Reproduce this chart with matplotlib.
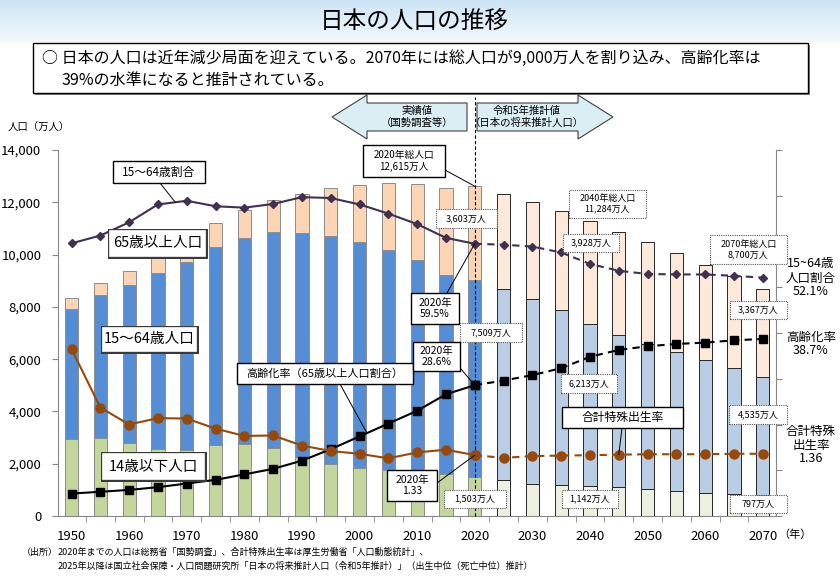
import matplotlib
matplotlib.use('Agg')
import matplotlib.pyplot as plt
import numpy as np
from matplotlib.patches import Rectangle, Polygon, ConnectionPatch
from matplotlib.colors import LinearSegmentedColormap
import matplotlib.patheffects as pe

plt.rcParams['font.family'] = ['Noto Sans CJK JP', 'DejaVu Sans']

# data (万人, %)
years = [1950, 1955, 1960, 1965, 1970, 1975, 1980, 1985, 1990, 1995, 2000, 2005, 2010,
         2015, 2020, 2025, 2030, 2035, 2040, 2045, 2050, 2055, 2060, 2065, 2070]
pop_0_14 = [2943, 2980, 2807, 2553, 2515, 2722, 2751, 2603, 2249, 2001, 1847, 1752, 1680,
            1589, 1503, 1363, 1240, 1169, 1142, 1103, 1041, 966, 893, 836, 797]
pop_15_64 = [4966, 5473, 6047, 6744, 7212, 7581, 7883, 8251, 8590, 8716, 8622, 8409, 8103,
             7629, 7509, 7310, 7076, 6722, 6213, 5832, 5540, 5307, 5078, 4809, 4535]
pop_65 = [411, 475, 535, 624, 739, 887, 1065, 1247, 1489, 1826, 2201, 2567, 2925,
          3347, 3603, 3653, 3696, 3773, 3928, 3945, 3888, 3777, 3644, 3532, 3367]
ratio_15_64 = [59.6, 61.3, 64.2, 68.1, 68.9, 67.7, 67.4, 68.2, 69.7, 69.5, 68.1, 66.1, 63.8,
               60.8, 59.5, 59.3, 58.9, 57.6, 55.1, 53.6, 52.9, 52.8, 52.8, 52.5, 52.1]
aging_rate = [4.9, 5.3, 5.7, 6.3, 7.1, 7.9, 9.1, 10.3, 12.1, 14.6, 17.4, 20.2, 23.0,
              26.6, 28.6, 29.6, 30.8, 32.3, 34.8, 36.3, 37.1, 37.6, 37.9, 38.4, 38.7]
fertility = [3.65, 2.37, 2.00, 2.14, 2.13, 1.91, 1.75, 1.76, 1.54, 1.42, 1.36, 1.26, 1.39,
             1.45, 1.33, 1.27, 1.31, 1.32, 1.33, 1.34, 1.35, 1.35, 1.35, 1.36, 1.36]

W, H = 840, 577
fig = plt.figure(figsize=(8.4, 5.77), dpi=100)


def fx(x, y):
    return (x / W, 1 - y / H)


# header band
hax = fig.add_axes([0, 1 - 42 / H, 1, 42 / H], zorder=-5)
grad = np.linspace(0, 1, 100).reshape(-1, 1)
hax.imshow(grad, aspect='auto', extent=(0, 1, 0, 1),
           cmap=LinearSegmentedColormap.from_list('h', ['#cde5f5', '#f2f9fd']))
hax.axis('off')
fig.text(*fx(414, 21), '日本の人口の推移', ha='center', va='center', fontsize=17)

# summary box
fig.add_artist(Rectangle(fx(35, 95), 775 / W, 50 / H, transform=fig.transFigure,
                         fc='#7f7f7f', ec='none', zorder=1))
fig.add_artist(Rectangle(fx(33, 93), 775 / W, 50 / H, transform=fig.transFigure,
                         fc='white', ec='black', lw=1, zorder=1.1))
fig.text(*fx(42, 58), '○ 日本の人口は近年減少局面を迎えている。2070年には総人口が9,000万人を割り込み、高齢化率は',
         ha='left', va='center', fontsize=11.5, zorder=4)
fig.text(*fx(62, 80), '39%の水準になると推計されている。', ha='left', va='center', fontsize=11.5, zorder=4)

# main axes
ax = fig.add_axes([58 / W, 1 - 516 / H, 718 / W, 366 / H])
yr = np.array(years)
p14 = np.array(pop_0_14)
p1564 = np.array(pop_15_64)
p65 = np.array(pop_65)
hist = yr <= 2020

c14 = np.where(hist, '#c3d69b', '#ebf1de')
c1564 = np.where(hist, '#558ed5', '#b9cde5')
c65 = np.where(hist, '#fcd5b5', '#fde9d9')
edges = np.where(hist, '#8c8c8c', '#262626')
bw = 2.3
ax.bar(yr, p14, width=bw, color=c14, edgecolor=edges, lw=0.7)
ax.bar(yr, p1564, bottom=p14, width=bw, color=c1564, edgecolor=edges, lw=0.7)
ax.bar(yr, p65, bottom=p14 + p1564, width=bw, color=c65, edgecolor=edges, lw=0.7)

ax.set_xlim(1947.65, 2072.3)
ax.set_ylim(0, 14000)
ax.set_yticks(range(0, 14001, 2000))
ax.set_yticklabels([f'{v:,}' for v in range(0, 14001, 2000)], fontsize=9.5)
ax.set_xticks(range(1950, 2071, 10))
ax.set_xticklabels([str(v) for v in range(1950, 2071, 10)], fontsize=9.5)
ax.set_xticks(np.arange(1952.5, 2070, 5), minor=True)
ax.tick_params(axis='x', which='major', length=0, pad=10)
ax.tick_params(axis='x', which='minor', length=4, color='#868686')
ax.tick_params(axis='y', length=4, color='#868686', pad=8)
for s in ['top', 'right']:
    ax.spines[s].set_visible(False)
for s in ['left', 'bottom']:
    ax.spines[s].set_color('#868686')

ax.axvline(2020, ymin=0, ymax=(516 - 97) / 366, clip_on=False, ls=(0, (3, 2)),
           color='black', lw=0.8, zorder=5)

# ratio axes (0-80%)
ax2 = ax.twinx()
ax2.set_ylim(0, 80)
ax2.set_yticks(range(0, 81, 10))
ax2.set_yticklabels([])
ax2.tick_params(axis='y', length=4, color='#868686')
for s in ['top', 'left', 'bottom']:
    ax2.spines[s].set_visible(False)
ax2.spines['right'].set_color('#868686')

ax3 = ax.twinx()
ax3.set_ylim(0, 8)
ax3.axis('off')

h = slice(0, 15)
p = slice(14, 25)
dash = (0, (3.5, 2.5))
ax2.plot(yr[h], np.array(ratio_15_64)[h], color='#3f3151', lw=1.5, marker='D', ms=4.5)
ax2.plot(yr[p], np.array(ratio_15_64)[p], color='#3f3151', lw=1.5, ls=dash, marker='D', ms=4.5)
ax2.plot(yr[h], np.array(aging_rate)[h], color='black', lw=1.5, marker='s', ms=6)
ax2.plot(yr[p], np.array(aging_rate)[p], color='black', lw=1.5, ls=dash, marker='s', ms=6)
ax3.plot(yr[h], np.array(fertility)[h], color='#984807', lw=1.5, marker='o', ms=6.5)
ax3.plot(yr[p], np.array(fertility)[p], color='#984807', lw=1.5, ls=dash, marker='o', ms=6.5)

# arrows
arrow_l = [(332, 117), (367, 95), (367, 103), (467, 103), (467, 131), (367, 131), (367, 139)]
arrow_r = [(477, 103), (578, 103), (578, 95), (613, 117), (578, 139), (578, 131), (477, 131)]
for pts in (arrow_l, arrow_r):
    fig.add_artist(Polygon([fx(*q) for q in pts], closed=True, transform=fig.transFigure,
                           fc='#dbeef4', ec='#404040', lw=0.8, zorder=1))
fig.text(*fx(417, 111), '実績値', ha='center', va='center', fontsize=7.5, zorder=4)
fig.text(*fx(417, 123), '（国勢調査等）', ha='center', va='center', fontsize=7.5, zorder=4)
fig.text(*fx(527, 111), '令和5年推計値', ha='center', va='center', fontsize=7.5, zorder=4)
fig.text(*fx(527, 123), '（日本の将来推計人口）', ha='center', va='center', fontsize=7.5, zorder=4)


def box(x0, y0, x1, y1, text, fs, kind='solid'):
    r = Rectangle(fx(x0, y1), (x1 - x0) / W, (y1 - y0) / H, transform=fig.transFigure,
                  fc='white', zorder=3)
    if kind == 'solid':
        r.set_edgecolor('black')
        r.set_linewidth(1)
    elif kind == 'dotted':
        r.set_edgecolor('#555555')
        r.set_linewidth(0.8)
        r.set_linestyle((0, (1, 1)))
    else:
        r.set_edgecolor('black')
        r.set_linewidth(0.8)
        r.set_path_effects([pe.Stroke(linewidth=3.6, foreground='#3a3a3a'),
                            pe.Stroke(linewidth=1.2, foreground='white')])
    fig.add_artist(r)
    fig.text(*fx((x0 + x1) / 2, (y0 + y1) / 2), text, ha='center', va='center',
             fontsize=fs, zorder=4, linespacing=1.15, multialignment='center')


def leader(x, y, xy, axes):
    fig.add_artist(ConnectionPatch(xyA=fx(x, y), coordsA=fig.transFigure, xyB=xy,
                                   coordsB=axes.transData, color='black', lw=0.7, zorder=2.5))


leader(160, 183, (1968, 68.6), ax2)
box(113, 161, 205, 183, '15～64歳割合', 8.5)
box(110, 231, 205, 256, '65歳以上人口', 10.5, 'double')
box(103, 328, 196, 351, '15～64歳人口', 10.5, 'double')
box(103, 454, 204, 479, '14歳以下人口', 10.5, 'double')
leader(340, 384, (2001.3, 18.1), ax2)
box(237, 363, 413, 384, '高齢化率（65歳以上人口割合）', 8)
leader(445, 170, (2020, 12615), ax)
box(363, 145, 445, 177, '2020年総人口\n12,615万人', 7)
box(436, 209, 497, 228, '3,603万人', 6.5, 'dotted')
leader(447, 293, (2020, ratio_15_64[14]), ax2)
box(411, 293, 459, 324, '2020年\n59.5%', 7.5)
box(460, 323, 522, 342, '7,509万人', 6.5, 'dotted')
leader(455, 362, (2020, aging_rate[14]), ax2)
box(413, 342, 460, 371, '2020年\n28.6%', 7.5)
leader(437, 483, (2020, fertility[14]), ax3)
box(387, 470, 437, 501, '2020年\n1.33', 7.5)
box(444, 490, 506, 508, '1,503万人', 6.5, 'dotted')
box(569, 190, 646, 218, '2040年総人口\n11,284万人', 6.5, 'dotted')
box(563, 234, 619, 252, '3,928万人', 6.5, 'dotted')
box(561, 374, 617, 393, '6,213万人', 6.5, 'dotted')
leader(622, 428, (2045, fertility[19]), ax3)
box(562, 407, 683, 428, '合計特殊出生率', 8.5)
box(562, 490, 618, 508, '1,142万人', 6.5, 'dotted')
box(710, 235, 787, 264, '2070年総人口\n8,700万人', 6.5, 'dotted')
box(730, 301, 787, 319, '3,367万人', 6.5, 'dotted')
box(729, 405, 787, 424, '4,535万人', 6.5, 'dotted')
box(730, 495, 787, 513, '797万人', 6.5, 'dotted')

# right side labels
fig.text(*fx(811, 278), '15~64歳\n人口割合\n52.1%', ha='center', va='center', fontsize=9,
         linespacing=1.1)
fig.text(*fx(811, 344), '高齢化率\n38.7%', ha='center', va='center', fontsize=9,
         linespacing=1.1)
fig.text(*fx(811, 445), '合計特殊\n出生率\n1.36', ha='center', va='center', fontsize=9,
         linespacing=1.1)

fig.text(*fx(8, 128), '人口（万人）', ha='left', va='center', fontsize=7.5)
fig.text(*fx(795, 535), '（年）', ha='center', va='center', fontsize=8)

fig.text(*fx(22, 552), '（出所）', ha='left', va='center', fontsize=6.5)
fig.text(*fx(58, 552), '2020年までの人口は総務省「国勢調査」、合計特殊出生率は厚生労働省「人口動態統計」、',
         ha='left', va='center', fontsize=6.5)
fig.text(*fx(58, 566), '2025年以降は国立社会保障・人口問題研究所「日本の将来推計人口（令和5年推計）」（出生中位（死亡中位）推計）',
         ha='left', va='center', fontsize=6.5)

fig.savefig('out.png', dpi=100)
